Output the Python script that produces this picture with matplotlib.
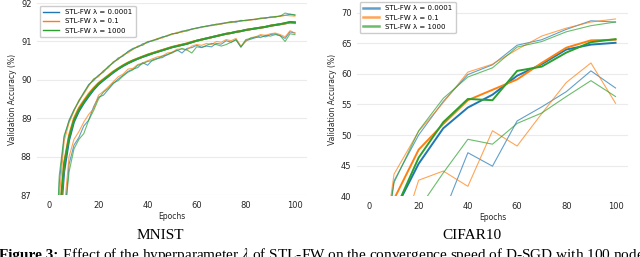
import matplotlib
matplotlib.use("Agg")
from matplotlib import pyplot as plt

# ---- data -----------------------------------------------------------------
LABELS = ["STL-FW λ = 0.0001", "STL-FW λ = 0.1", "STL-FW λ = 1000"]
COLORS = ["#1f77b4", "#ff7f0e", "#2ca02c"]

mnist_epochs = list(range(2, 101, 2))

mnist_max_blue = [83.8, 87.3, 88.5, 88.95, 89.22, 89.43, 89.66, 89.88, 89.98, 90.12,
                  90.2, 90.35, 90.44, 90.57, 90.62, 90.74, 90.82, 90.85, 90.94, 90.97,
                  91.03, 91.05, 91.12, 91.14, 91.2, 91.21, 91.27, 91.27, 91.33, 91.34,
                  91.38, 91.39, 91.43, 91.43, 91.47, 91.49, 91.52, 91.5, 91.55, 91.54,
                  91.57, 91.57, 91.61, 91.6, 91.64, 91.63, 91.67, 91.68, 91.71, 91.68]
mnist_max_orange = [83.2, 86.9, 88.4, 88.88, 89.18, 89.47, 89.63, 89.84, 90.03, 90.08,
                    90.24, 90.31, 90.47, 90.53, 90.65, 90.7, 90.79, 90.88, 90.9, 91.0,
                    91.01, 91.08, 91.09, 91.16, 91.18, 91.24, 91.24, 91.3, 91.31, 91.36,
                    91.36, 91.41, 91.41, 91.45, 91.45, 91.49, 91.49, 91.53, 91.52, 91.56,
                    91.55, 91.59, 91.59, 91.62, 91.62, 91.65, 91.65, 91.68, 91.67, 91.66]
mnist_max_green = [84.2, 87.5, 88.55, 88.92, 89.21, 89.46, 89.67, 89.86, 90.01, 90.11,
                   90.23, 90.34, 90.46, 90.54, 90.64, 90.73, 90.8, 90.87, 90.91, 90.99,
                   91.02, 91.07, 91.11, 91.15, 91.2, 91.22, 91.26, 91.29, 91.32, 91.35,
                   91.38, 91.4, 91.42, 91.45, 91.46, 91.48, 91.5, 91.52, 91.54, 91.55,
                   91.57, 91.58, 91.6, 91.62, 91.63, 91.65, 91.66, 91.74, 91.71, 91.7]

mnist_mean_blue = [81.6, 85.9, 87.6, 88.42, 88.9, 89.18, 89.39, 89.57, 89.74, 89.88,
                   89.99, 90.09, 90.19, 90.28, 90.36, 90.43, 90.49, 90.55, 90.6, 90.64,
                   90.69, 90.73, 90.77, 90.81, 90.85, 90.88, 90.91, 90.94, 90.98, 91.02,
                   91.05, 91.08, 91.11, 91.14, 91.17, 91.2, 91.22, 91.25, 91.27, 91.3,
                   91.32, 91.34, 91.36, 91.38, 91.41, 91.43, 91.45, 91.47, 91.5, 91.49]
mnist_mean_orange = [82.1, 86.2, 87.85, 88.56, 89.0, 89.27, 89.46, 89.64, 89.79, 89.92,
                     90.02, 90.12, 90.22, 90.3, 90.38, 90.45, 90.51, 90.56, 90.61, 90.66,
                     90.7, 90.74, 90.78, 90.82, 90.86, 90.89, 90.92, 90.95, 90.99, 91.02,
                     91.05, 91.08, 91.11, 91.14, 91.17, 91.2, 91.22, 91.25, 91.27, 91.3,
                     91.32, 91.34, 91.36, 91.38, 91.41, 91.43, 91.45, 91.47, 91.49, 91.48]
mnist_mean_green = [82.4, 86.4, 87.8, 88.5, 88.95, 89.22, 89.42, 89.6, 89.76, 89.9,
                    90.0, 90.1, 90.2, 90.29, 90.37, 90.44, 90.5, 90.55, 90.6, 90.65,
                    90.69, 90.73, 90.77, 90.81, 90.85, 90.88, 90.91, 90.94, 90.98, 91.02,
                    91.05, 91.08, 91.11, 91.14, 91.17, 91.2, 91.22, 91.25, 91.27, 91.3,
                    91.32, 91.34, 91.36, 91.38, 91.41, 91.43, 91.45, 91.48, 91.51, 91.5]

mnist_min_blue = [80.0, 83.6, 86.2, 87.8, 88.3, 88.5, 88.8, 88.95, 89.3, 89.55,
                  89.6, 89.75, 89.9, 90.02, 90.12, 90.22, 90.28, 90.32, 90.45, 90.38,
                  90.52, 90.56, 90.58, 90.66, 90.7, 90.78, 90.7, 90.82, 90.84, 90.9,
                  90.85, 90.88, 90.86, 90.95, 90.93, 91.02, 90.98, 91.05, 90.85, 91.02,
                  91.06, 91.1, 91.15, 91.12, 91.18, 91.2, 91.15, 91.08, 91.25, 91.22]
mnist_min_orange = [80.5, 84.2, 86.6, 88.0, 88.45, 88.65, 88.9, 89.1, 89.25, 89.6,
                    89.7, 89.82, 89.95, 90.08, 90.15, 90.28, 90.3, 90.4, 90.44, 90.5,
                    90.55, 90.6, 90.62, 90.7, 90.72, 90.8, 90.8, 90.78, 90.88, 90.92,
                    90.9, 90.95, 90.92, 91.0, 90.98, 91.05, 91.02, 91.08, 90.88, 91.0,
                    91.1, 91.12, 91.18, 91.16, 91.2, 91.22, 91.18, 91.12, 91.28, 91.22]
mnist_min_green = [80.2, 83.8, 86.3, 87.6, 88.2, 88.45, 88.6, 88.95, 89.2, 89.5,
                   89.68, 89.78, 89.92, 89.98, 90.1, 90.2, 90.26, 90.38, 90.42, 90.48,
                   90.5, 90.55, 90.62, 90.65, 90.72, 90.76, 90.82, 90.78, 90.7, 90.86,
                   90.84, 90.9, 90.95, 90.92, 90.88, 90.92, 90.98, 91.04, 90.86, 91.05,
                   91.08, 91.12, 91.1, 91.16, 91.14, 91.18, 91.15, 91.0, 91.2, 91.18]

cifar_epochs = [0, 10, 20, 30, 40, 50, 60, 70, 80, 90, 100]

cifar_max_blue = [15, 42.5, 50.0, 55.5, 59.9, 61.5, 64.7, 65.6, 67.3, 68.7, 68.5]
cifar_max_orange = [15, 43.6, 50.6, 55.3, 60.3, 61.6, 64.0, 66.2, 67.5, 68.5, 69.0]
cifar_max_green = [15, 42.2, 50.7, 56.0, 59.5, 61.0, 64.4, 65.3, 66.9, 67.9, 68.5]

cifar_mean_blue = [10, 37.4, 45.3, 51.1, 54.5, 56.6, 59.7, 61.6, 64.0, 64.8, 65.1]
cifar_mean_orange = [10, 39.5, 47.6, 51.8, 55.7, 57.4, 59.1, 61.8, 64.3, 65.5, 65.6]
cifar_mean_green = [10, 37.3, 46.3, 52.1, 55.9, 55.7, 60.5, 61.2, 63.5, 65.2, 65.7]

cifar_min_blue = [10, 20, 30, 37.0, 47.1, 44.9, 52.3, 54.6, 57.1, 60.5, 57.7]
cifar_min_orange = [10, 30, 42.6, 44.1, 41.6, 50.7, 48.2, 53.5, 58.6, 61.8, 55.2]
cifar_min_green = [10, 30, 37.9, 43.8, 49.3, 48.5, 51.9, 53.6, 56.3, 58.9, 56.3]

MNIST_TICKS = [87, 88, 89, 90, 91, 92]
CIFAR_TICKS = [40, 45, 50, 55, 60, 65, 70]
CAPTION_HEAD = "Figure 3:"
CAPTION_BODY = ("Effect of the hyperparameter $\\lambda$ of STL-FW on the "
                "convergence speed of D-SGD with 100 nodes")

# ---- plotting ---------------------------------------------------------------
plt.rcParams["font.family"] = "DejaVu Sans"
plt.rcParams["mathtext.fontset"] = "stix"

fig = plt.figure(figsize=(6.4, 2.57), dpi=100)
ax_m = fig.add_axes([0.058, 0.241, 0.422, 0.747])
ax_c = fig.add_axes([0.558, 0.237, 0.423, 0.751])


def style_axes(ax, ticks, ylim):
    ax.set_xlim(-5, 105)
    ax.set_ylim(*ylim)
    ax.set_yticks(ticks)
    ax.set_xticks([0, 20, 40, 60, 80, 100])
    for s in ax.spines.values():
        s.set_visible(False)
    ax.grid(axis="y", color="#ebebeb", linewidth=0.8)
    ax.set_axisbelow(True)
    ax.tick_params(length=0, labelsize=6, pad=4, colors="#262626")
    ax.set_xlabel("Epochs", fontsize=5.5, labelpad=1.5, color="#262626")
    ax.set_ylabel("Validation Accuracy (%)", fontsize=5.5, labelpad=3,
                  color="#262626")


mnist_groups = [
    (mnist_max_blue, mnist_mean_blue, mnist_min_blue),
    (mnist_max_orange, mnist_mean_orange, mnist_min_orange),
    (mnist_max_green, mnist_mean_green, mnist_min_green),
]
cifar_groups = [
    (cifar_max_blue, cifar_mean_blue, cifar_min_blue),
    (cifar_max_orange, cifar_mean_orange, cifar_min_orange),
    (cifar_max_green, cifar_mean_green, cifar_min_green),
]

for ax, epochs, groups in [(ax_m, mnist_epochs, mnist_groups),
                           (ax_c, cifar_epochs, cifar_groups)]:
    for (hi, mid, lo), color, label in zip(groups, COLORS, LABELS):
        ax.plot(epochs, hi, color=color, linewidth=0.8, alpha=0.7)
        ax.plot(epochs, lo, color=color, linewidth=0.8, alpha=0.7)
        ax.plot(epochs, mid, color=color, linewidth=1.4, label=label)

style_axes(ax_m, MNIST_TICKS, (87, 92))
style_axes(ax_c, CIFAR_TICKS, (40, 71.6))

leg_kw = dict(loc="upper left", fontsize=5, frameon=True, framealpha=1,
              edgecolor="#cccccc", borderpad=0.5, handlelength=2.3,
              labelspacing=0.45, borderaxespad=0.4)
leg_m = ax_m.legend(bbox_to_anchor=(0.0, 1.0), **leg_kw)
for h in leg_m.get_lines():
    h.set_linewidth(1.0)
leg_c = ax_c.legend(bbox_to_anchor=(0.0, 1.02), **leg_kw)
for h in leg_c.get_lines():
    h.set_linewidth(1.8)
    h.set_alpha(0.7)

fig.text(0.25, 0.07, "MNIST", ha="center", va="baseline",
         family="Liberation Serif", fontsize=11)
fig.text(0.738, 0.07, "CIFAR10", ha="center", va="baseline",
         family="Liberation Serif", fontsize=11)

head = fig.text(-0.002, -0.006, CAPTION_HEAD, ha="left", va="baseline",
                family="Liberation Serif", fontsize=11, fontweight="bold")
fig.canvas.draw()
bb = head.get_window_extent(renderer=fig.canvas.get_renderer())
x_body = (bb.x1 + 4) / fig.bbox.width
fig.text(x_body, -0.006, CAPTION_BODY, ha="left", va="baseline",
         family="Liberation Serif", fontsize=11)

fig.savefig("out.png", dpi=100)
